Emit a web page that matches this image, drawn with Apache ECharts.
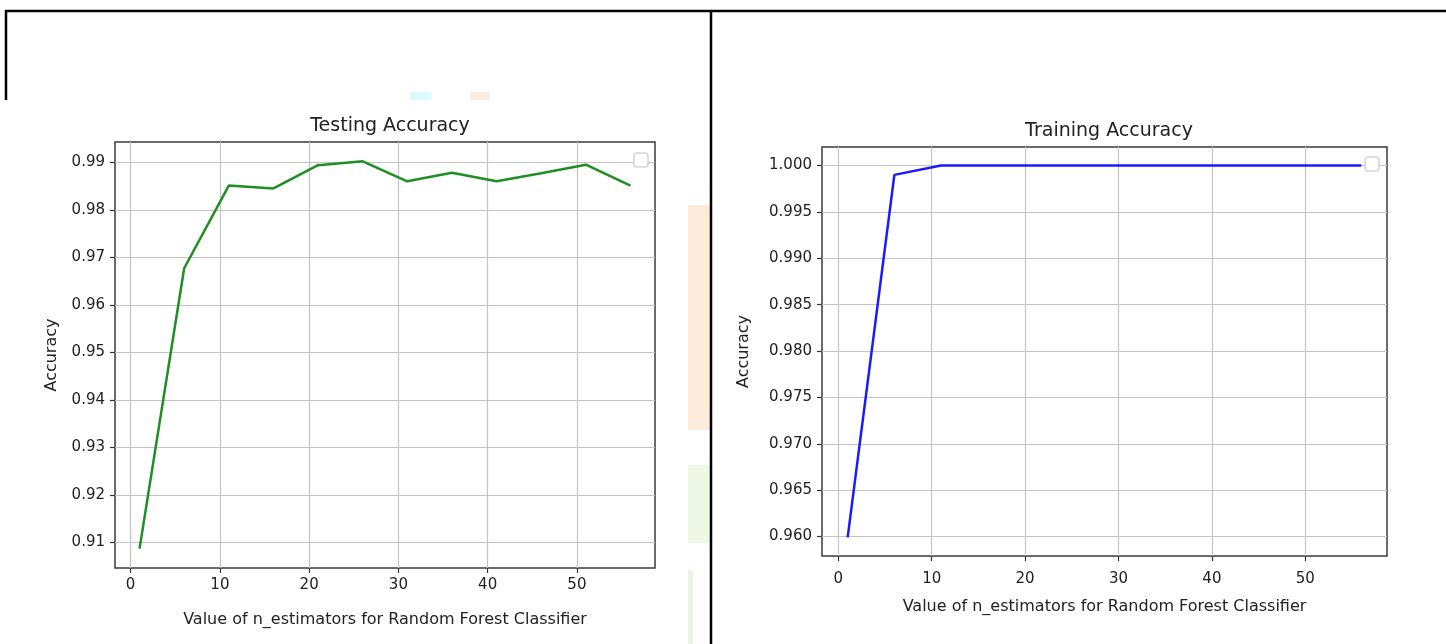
<!DOCTYPE html>
<html>
<head>
<meta charset="utf-8">
<title>Random Forest accuracy</title>
<script src="https://cdn.jsdelivr.net/npm/echarts@6/dist/echarts.min.js"></script>
<style>
    html, body { margin: 0; padding: 0; background: #fff; }
    #main { width: 1446px; height: 644px; }
</style>
</head>
<body>
<div id="main"></div>
<script>
// n_estimators tried, and accuracy for each
var nEstimators = [1, 6, 11, 16, 21, 26, 31, 36, 41, 46, 51, 56];
var testAcc = [0.9087, 0.9677, 0.9851, 0.9845, 0.9894, 0.9902, 0.9860, 0.9878, 0.9860, 0.9877, 0.9895, 0.9851];
var trainAcc = [0.9599, 0.9990, 1.0, 1.0, 1.0, 1.0, 1.0, 1.0, 1.0, 1.0, 1.0, 1.0];

var xTicks = [0, 10, 20, 30, 40, 50];
var testTicks = [0.91, 0.92, 0.93, 0.94, 0.95, 0.96, 0.97, 0.98, 0.99];
var trainTicks = [0.960, 0.965, 0.970, 0.975, 0.980, 0.985, 0.990, 0.995, 1.000];

var FONT = 'DejaVu Sans';
var TEXT = '#222';

// matplotlib style 5% margins
function padded(arr) {
    var lo = Math.min.apply(null, arr), hi = Math.max.apply(null, arr);
    var d = (hi - lo) * 0.05;
    return [lo - d, hi + d];
}
function pairs(xs, ys) {
    return xs.map(function (x, i) { return [x, ys[i]]; });
}

var xRange = padded(nEstimators);
var testRange = padded(testAcc);
var trainRange = padded(trainAcc);

function xAxis(idx, margin, gap) {
    return {
        type: 'value', gridIndex: idx,
        min: xRange[0], max: xRange[1],
        name: 'Value of n_estimators for Random Forest Classifier',
        nameLocation: 'middle', nameGap: gap,
        nameTextStyle: { fontFamily: FONT, fontSize: 16, color: TEXT },
        axisLine: { show: false, onZero: false },
        axisTick: { show: true, length: 5, customValues: xTicks, lineStyle: { color: '#333', width: 1.2 } },
        axisLabel: { customValues: xTicks, margin: margin, fontFamily: FONT, fontSize: 15, color: TEXT },
        splitLine: { show: true, lineStyle: { color: '#c4c4c4', width: 1.2 } }
    };
}
function yAxis(idx, range, ticks, digits, gap) {
    return {
        type: 'value', gridIndex: idx,
        min: range[0], max: range[1],
        name: 'Accuracy',
        nameLocation: 'middle', nameGap: gap, nameRotate: 90,
        nameTextStyle: { fontFamily: FONT, fontSize: 16, color: TEXT },
        axisLine: { show: false, onZero: false },
        axisTick: { show: true, length: 5, customValues: ticks, lineStyle: { color: '#333', width: 1.2 } },
        axisLabel: {
            customValues: ticks, margin: 10, fontFamily: FONT, fontSize: 15, color: TEXT,
            formatter: function (v) { return v.toFixed(digits); }
        },
        splitLine: { show: true, lineStyle: { color: '#c4c4c4', width: 1.2 } }
    };
}

var myChart = echarts.init(document.getElementById('main'));
var option = {
    backgroundColor: '#fff',
    animation: false,
    title: [
        { text: 'Testing Accuracy', left: 385, top: 112, textAlign: 'center',
          textStyle: { fontFamily: FONT, fontSize: 19, fontWeight: 'normal', color: TEXT } },
        { text: 'Training Accuracy', left: 1104, top: 117, textAlign: 'center',
          textStyle: { fontFamily: FONT, fontSize: 19, fontWeight: 'normal', color: TEXT } }
    ],
    grid: [
        { left: 115, top: 142, width: 540, height: 426, show: true, borderColor: '#3a3a3a', borderWidth: 1.5, backgroundColor: 'transparent' },
        { left: 822, top: 147, width: 565, height: 409, show: true, borderColor: '#3a3a3a', borderWidth: 1.5, backgroundColor: 'transparent' }
    ],
    xAxis: [xAxis(0, 10, 44), xAxis(1, 16, 43)],
    yAxis: [yAxis(0, testRange, testTicks, 2, 55), yAxis(1, trainRange, trainTicks, 3, 70)],
    series: [
        {
            name: 'Testing', type: 'line', xAxisIndex: 0, yAxisIndex: 0,
            showSymbol: false, data: pairs(nEstimators, testAcc),
            lineStyle: { color: '#1f8f24', width: 2.5 }, itemStyle: { color: '#1f8f24' }
        },
        {
            name: 'Training', type: 'line', xAxisIndex: 1, yAxisIndex: 1,
            showSymbol: false, data: pairs(nEstimators, trainAcc),
            lineStyle: { color: '#1a1aff', width: 2.5 }, itemStyle: { color: '#1a1aff' }
        }
    ],
    graphic: [
        // faint watermark leftovers
        { type: 'rect', shape: { x: 688, y: 205, width: 22, height: 225 }, style: { fill: '#fdebdc' }, silent: true },
        { type: 'rect', shape: { x: 688, y: 465, width: 22, height: 78 }, style: { fill: '#eef8e6' }, silent: true },
        { type: 'rect', shape: { x: 688, y: 570, width: 5, height: 74 }, style: { fill: '#eaf5e2' }, silent: true },
        { type: 'rect', shape: { x: 411, y: 92, width: 20, height: 8 }, style: { fill: '#d8fbfb' }, silent: true },
        { type: 'rect', shape: { x: 470, y: 92, width: 20, height: 8 }, style: { fill: '#fdecdc' }, silent: true },
        // empty legend frames
        { type: 'rect', shape: { x: 634, y: 153, width: 14, height: 14, r: 3 }, style: { fill: '#fff', stroke: '#d4d4d4', lineWidth: 1.5 }, z: 10 },
        { type: 'rect', shape: { x: 1365, y: 157, width: 14, height: 14, r: 3 }, style: { fill: '#fff', stroke: '#d4d4d4', lineWidth: 1.5 }, z: 10 },
        // table borders
        { type: 'line', shape: { x1: 5, y1: 11, x2: 1446, y2: 11 }, style: { stroke: '#000', lineWidth: 2.5 }, z: 10 },
        { type: 'line', shape: { x1: 6, y1: 10, x2: 6, y2: 100 }, style: { stroke: '#000', lineWidth: 2.5 }, z: 10 },
        { type: 'line', shape: { x1: 711, y1: 10, x2: 711, y2: 644 }, style: { stroke: '#000', lineWidth: 2.5 }, z: 10 }
    ]
};

myChart.setOption(option);
</script>
</body>
</html>
